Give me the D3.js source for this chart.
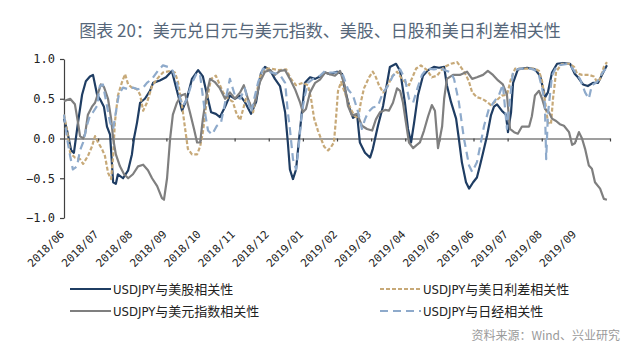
<!DOCTYPE html>
<html lang="zh">
<head>
    <meta charset="UTF-8">
    <title>美元兑日元相关性</title>
    <script src="https://cdn.jsdelivr.net/npm/d3@7"></script>
    <style>
        body { margin: 0; background: #fff; }
        svg { display: block; }
    </style>
</head>
<body>
<svg id="chart"></svg>

<script>
    // 横轴月份标签（第 i 个月）
    const months = ['2018/06', '2018/07', '2018/08', '2018/09', '2018/10', '2018/11', '2018/12', '2019/01',
        '2019/02', '2019/03', '2019/04', '2019/05', '2019/06', '2019/07', '2019/08', '2019/09'];
    const yTicks = [-1, -0.5, 0, 0.5, 1];

    // 每个点：[距 2018/06 的月数, 相关系数]
    const stockCorr = [[0,0.25],[0.09,0.1],[0.21,-0.15],[0.29,-0.18],[0.41,0.2],[0.53,0.55],[0.64,0.72],[0.76,0.78],[0.85,0.8],[0.97,0.55],[1.05,0.5],[1.17,0.4],[1.26,0.15],[1.35,0.05],[1.44,-0.55],[1.52,-0.57],[1.58,-0.45],[1.73,-0.5],[1.88,-0.4],[1.99,-0.2],[2.05,0],[2.14,0.2],[2.23,0.45],[2.37,0.5],[2.52,0.6],[2.61,0.7],[2.81,0.73],[2.99,0.77],[3.16,0.85],[3.31,0.6],[3.46,0.35],[3.60,0.5],[3.75,0.75],[3.93,0.86],[4.07,0.78],[4.19,0.55],[4.31,0.33],[4.45,0.31],[4.57,0.27],[4.72,0.4],[4.86,0.54],[5.01,0.5],[5.16,0.54],[5.30,0.46],[5.48,0.31],[5.63,0.46],[5.77,0.82],[5.89,0.9],[6.04,0.86],[6.18,0.75],[6.33,0.66],[6.48,0.33],[6.56,-0.05],[6.62,-0.39],[6.71,-0.51],[6.80,-0.39],[6.89,0],[6.97,0.33],[7.06,0.7],[7.21,0.77],[7.36,0.75],[7.50,0.78],[7.65,0.83],[7.79,0.81],[8.00,0.84],[8.15,0.81],[8.23,0.62],[8.38,0.37],[8.47,0.26],[8.59,0.3],[8.67,-0.05],[8.82,-0.18],[8.97,-0.24],[9.05,-0.13],[9.20,0.16],[9.35,0.41],[9.55,0.9],[9.73,0.94],[9.85,0.85],[9.99,0.45],[10.08,0.12],[10.17,-0.05],[10.26,0.2],[10.37,0.54],[10.52,0.79],[10.67,0.86],[10.84,0.9],[10.99,0.89],[11.14,0.9],[11.22,0.67],[11.34,0.46],[11.49,0.25],[11.57,0],[11.66,-0.3],[11.78,-0.55],[11.87,-0.63],[11.99,-0.55],[12.10,-0.49],[12.19,-0.34],[12.28,-0.18],[12.40,0.04],[12.51,0.29],[12.60,0.4],[12.69,0.43],[12.83,0.35],[12.95,0.3],[13.01,0.08],[13.10,0.33],[13.16,0.7],[13.30,0.87],[13.57,0.89],[13.80,0.87],[13.95,0.79],[14.10,0.52],[14.18,0.58],[14.30,0.83],[14.45,0.94],[14.62,0.95],[14.83,0.94],[14.97,0.81],[15.06,0.77],[15.21,0.68],[15.35,0.66],[15.50,0.7],[15.65,0.7],[15.80,0.83],[15.91,0.92]];

    const rateCorr = [[0,0.3],[0.09,0.1],[0.18,-0.18],[0.32,-0.24],[0.47,-0.26],[0.56,-0.32],[0.70,-0.22],[0.82,-0.1],[0.91,0.03],[1.00,-0.05],[1.11,-0.13],[1.20,-0.22],[1.29,-0.43],[1.38,-0.51],[1.44,-0.22],[1.49,0.2],[1.58,0.54],[1.70,0.71],[1.79,0.81],[1.88,0.68],[1.99,0.64],[2.14,0.62],[2.23,0.55],[2.32,0.35],[2.43,0.45],[2.58,0.66],[2.73,0.75],[2.90,0.83],[3.11,0.85],[3.25,0.83],[3.34,0.71],[3.46,0.41],[3.55,0.12],[3.63,-0.13],[3.75,-0.2],[3.90,-0.2],[3.99,-0.1],[4.07,0.08],[4.19,0.5],[4.31,0.75],[4.45,0.79],[4.57,0.67],[4.66,0.58],[4.81,0.5],[4.95,0.46],[5.04,0.33],[5.16,0.23],[5.25,0.37],[5.33,0.5],[5.45,0.44],[5.54,0.33],[5.63,0.54],[5.74,0.77],[5.89,0.88],[6.07,0.88],[6.27,0.86],[6.51,0.87],[6.65,0.75],[6.80,0.67],[7.00,0.7],[7.15,0.67],[7.24,0.5],[7.33,0.25],[7.44,0.1],[7.53,0],[7.62,-0.1],[7.74,-0.15],[7.82,-0.11],[7.91,-0.05],[7.97,0.25],[8.03,0.6],[8.12,0.71],[8.26,0.54],[8.35,0.42],[8.50,0.29],[8.62,0.25],[8.70,0.46],[8.79,0.63],[8.94,0.77],[9.05,0.84],[9.14,0.77],[9.23,0.67],[9.35,0.58],[9.44,0.62],[9.61,0.78],[9.76,0.84],[9.90,0.75],[10.11,0.67],[10.32,0.88],[10.46,0.92],[10.64,0.86],[10.78,0.77],[10.93,0.79],[11.14,0.9],[11.34,0.94],[11.52,0.96],[11.66,0.88],[11.78,0.8],[11.87,0.71],[11.96,0.58],[12.10,0.52],[12.25,0.5],[12.40,0.46],[12.51,0.42],[12.60,0.45],[12.83,0.54],[12.98,0.55],[13.10,0.75],[13.22,0.88],[13.51,0.88],[13.80,0.88],[13.92,0.85],[14.01,0.72],[14.10,0.46],[14.18,0.2],[14.27,0.18],[14.33,0.5],[14.42,0.84],[14.59,0.94],[14.80,0.94],[14.95,0.9],[15.03,0.82],[15.18,0.8],[15.38,0.8],[15.53,0.78],[15.62,0.71],[15.71,0.75],[15.82,0.9],[15.91,0.96]];

    const dollarCorr = [[0,0.47],[0.18,0.5],[0.32,0.43],[0.41,0.2],[0.47,0.03],[0.56,0],[0.62,0.06],[0.70,0.3],[0.82,0.4],[0.91,0.45],[1.08,0.68],[1.17,0.65],[1.29,0.5],[1.38,0.25],[1.44,0],[1.52,-0.2],[1.64,-0.35],[1.76,-0.45],[1.88,-0.5],[2.02,-0.45],[2.17,-0.35],[2.32,-0.33],[2.46,-0.4],[2.58,-0.5],[2.73,-0.6],[2.87,-0.75],[2.93,-0.77],[3.02,-0.5],[3.11,0],[3.19,0.3],[3.31,0.45],[3.43,0.54],[3.55,0.56],[3.69,0.33],[3.81,0.12],[3.90,-0.05],[3.99,-0.05],[4.07,0.25],[4.19,0.58],[4.28,0.75],[4.42,0.71],[4.57,0.63],[4.72,0.5],[4.86,0.58],[5.01,0.5],[5.16,0.58],[5.27,0.67],[5.39,0.5],[5.51,0.37],[5.63,0.5],[5.74,0.71],[5.89,0.84],[6.04,0.86],[6.18,0.8],[6.33,0.85],[6.48,0.86],[6.62,0.75],[6.77,0.62],[6.92,0.45],[7.00,0.33],[7.09,0.37],[7.21,0.58],[7.36,0.7],[7.50,0.74],[7.65,0.83],[7.79,0.81],[7.94,0.79],[8.09,0.85],[8.23,0.66],[8.32,0.41],[8.44,0.29],[8.59,0.31],[8.73,0.16],[8.88,0.12],[9.03,0.1],[9.14,0.24],[9.26,0.33],[9.41,0.36],[9.52,0.35],[9.64,0.45],[9.76,0.63],[9.85,0.6],[9.93,0.46],[10.02,0.2],[10.11,-0.05],[10.23,-0.12],[10.34,-0.08],[10.43,-0.05],[10.55,0.1],[10.67,0.28],[10.78,0.42],[10.87,0.35],[10.96,-0.12],[11.08,0.15],[11.14,0.5],[11.22,0.75],[11.40,0.8],[11.60,0.8],[11.81,0.84],[11.96,0.75],[12.10,0.77],[12.28,0.8],[12.42,0.85],[12.57,0.8],[12.72,0.73],[12.86,0.68],[12.98,0.55],[13.07,0.12],[13.19,0.08],[13.30,0.06],[13.42,0.15],[13.63,0.15],[13.71,0.28],[13.80,0.54],[13.92,0.6],[14.01,0.5],[14.10,0.37],[14.21,0.33],[14.30,0.25],[14.42,0.22],[14.53,0.18],[14.65,0.16],[14.80,0.08],[14.89,-0.08],[14.97,-0.06],[15.09,0.08],[15.18,0],[15.27,-0.13],[15.38,-0.34],[15.47,-0.38],[15.56,-0.55],[15.71,-0.63],[15.82,-0.76],[15.91,-0.77]];

    const nikkeiCorr = [[0,0.3],[0.09,0],[0.18,-0.22],[0.26,-0.39],[0.38,-0.35],[0.47,-0.15],[0.56,-0.05],[0.67,0.16],[0.76,0.29],[0.85,0.33],[0.97,0.41],[1.05,0.66],[1.14,0.68],[1.26,0.41],[1.35,0.2],[1.44,0.12],[1.55,0.41],[1.61,0.56],[1.73,0.64],[1.88,0.62],[2.02,0.64],[2.17,0.62],[2.32,0.64],[2.43,0.7],[2.58,0.75],[2.75,0.85],[2.90,0.92],[3.05,0.9],[3.19,0.85],[3.31,0.7],[3.40,0.5],[3.49,0.41],[3.60,0.5],[3.75,0.7],[3.90,0.83],[3.99,0.79],[4.13,0.33],[4.22,0.1],[4.34,0.05],[4.48,0.16],[4.60,0.2],[4.72,0.45],[4.86,0.75],[5.01,0.54],[5.16,0.5],[5.30,0.63],[5.48,0.33],[5.69,0.71],[5.83,0.88],[5.98,0.84],[6.18,0.82],[6.33,0.8],[6.48,0.7],[6.56,0.33],[6.62,0.12],[6.71,-0.26],[6.80,-0.39],[6.89,-0.05],[6.97,0.33],[7.06,0.54],[7.15,0.7],[7.30,0.75],[7.50,0.79],[7.65,0.85],[7.79,0.83],[8.00,0.83],[8.18,0.79],[8.32,0.62],[8.47,0.54],[8.62,0.33],[8.73,0.12],[8.82,0.24],[8.91,0.33],[9.05,0.39],[9.20,0.41],[9.35,0.58],[9.49,0.66],[9.64,0.79],[9.85,0.87],[9.99,0.75],[10.11,0.5],[10.23,0.45],[10.37,0.65],[10.49,0.8],[10.64,0.88],[10.84,0.87],[11.05,0.88],[11.22,0.85],[11.34,0.83],[11.43,0.75],[11.57,0.46],[11.72,0],[11.87,-0.34],[11.96,-0.42],[12.10,-0.3],[12.22,-0.04],[12.31,0.16],[12.45,0.37],[12.60,0.46],[12.75,0.55],[12.86,0.68],[12.98,0.12],[13.07,0.5],[13.16,0.85],[13.36,0.88],[13.66,0.88],[13.80,0.86],[13.92,0.79],[14.01,0.63],[14.09,0.45],[14.13,-0.26],[14.18,0.3],[14.30,0.79],[14.45,0.92],[14.80,0.94],[14.97,0.84],[15.12,0.75],[15.27,0.58],[15.38,0.5],[15.47,0.67],[15.62,0.71],[15.77,0.82],[15.91,0.9]];

    const seriesNames = ['USDJPY与美股相关性', 'USDJPY与美日利差相关性', 'USDJPY与美元指数相关性', 'USDJPY与日经相关性'];

    const W = 640, H = 353;
    const margin = {top: 59, right: 30, bottom: 135, left: 64};
    const svg = d3.select('#chart').attr('width', W).attr('height', H);

    const x = d3.scaleLinear().domain([0, months.length]).range([margin.left, W - margin.right]);
    const y = d3.scaleLinear().domain([-1, 1]).range([H - margin.bottom, margin.top]);

    // 标题
    svg.append('text')
        .attr('x', W / 2).attr('y', 37)
        .attr('text-anchor', 'middle')
        .attr('font-family', '"Noto Sans CJK SC", sans-serif')
        .attr('font-size', 17)
        .attr('fill', '#56677a')
        .text('图表 20：美元兑日元与美元指数、美股、日股和美日利差相关性');

    // y 轴
    const yAxis = svg.append('g')
        .attr('transform', 'translate(' + margin.left + ',0)')
        .call(d3.axisLeft(y).tickValues(yTicks).tickSize(4).tickSizeOuter(0).tickFormat(d3.format('.1f')));
    yAxis.selectAll('path, line').attr('stroke', '#404040').attr('stroke-width', 1.2);
    yAxis.selectAll('text')
        .attr('font-family', '"DejaVu Sans Mono", monospace')
        .attr('font-size', 12)
        .attr('fill', '#222')
        .attr('x', -9);

    // 零线 + 月份刻度
    const xAxis = svg.append('g')
        .attr('transform', 'translate(0,' + y(0) + ')')
        .call(d3.axisBottom(x).tickValues(d3.range(1, months.length + 1)).tickSize(3).tickSizeOuter(0).tickFormat(''));
    xAxis.selectAll('path, line').attr('stroke', '#404040').attr('stroke-width', 1.2);

    // 月份标签（斜放）
    svg.append('g').selectAll('text')
        .data(months)
        .enter().append('text')
        .attr('transform', function (d, i) {
            return 'translate(' + (x(i) + 1) + ',' + (y(-1) + 17) + ') rotate(-45)';
        })
        .attr('text-anchor', 'end')
        .attr('font-family', '"DejaVu Sans Mono", monospace')
        .attr('font-size', 11)
        .attr('fill', '#222')
        .text(function (d) { return d; });

    const line = d3.line()
        .x(function (d) { return x(d[0]); })
        .y(function (d) { return y(d[1]); });

    const series = [
        {data: stockCorr, color: '#1f3d63', dash: null},
        {data: rateCorr, color: '#c7a978', dash: '4,2'},
        {data: dollarCorr, color: '#7f7f7f', dash: null},
        {data: nikkeiCorr, color: '#8eaacb', dash: '8,5'}
    ];

    svg.append('g').selectAll('path')
        .data(series)
        .enter().append('path')
        .attr('d', function (d) { return line(d.data); })
        .attr('fill', 'none')
        .attr('stroke', function (d) { return d.color; })
        .attr('stroke-width', 2.2)
        .attr('stroke-linejoin', 'round')
        .attr('stroke-dasharray', function (d) { return d.dash; });

    // 图例
    const legend = svg.append('g').selectAll('g')
        .data(series)
        .enter().append('g')
        .attr('transform', function (d, i) {
            return 'translate(' + (i % 2 === 0 ? 70 : 380) + ',' + (289 + Math.floor(i / 2) * 22) + ')';
        });
    legend.append('line')
        .attr('x1', 0).attr('x2', 41)
        .attr('stroke', function (d) { return d.color; })
        .attr('stroke-width', 2.2)
        .attr('stroke-dasharray', function (d) { return d.dash; });
    legend.append('text')
        .attr('x', 43).attr('dy', '0.35em')
        .attr('font-family', '"DejaVu Sans Condensed", "Noto Sans CJK SC", sans-serif')
        .attr('font-size', 13)
        .attr('fill', '#222')
        .text(function (d, i) { return seriesNames[i]; });

    // 资料来源
    svg.append('text')
        .attr('x', 620).attr('y', 340)
        .attr('text-anchor', 'end')
        .attr('font-family', '"Noto Sans CJK SC", sans-serif')
        .attr('font-size', 12)
        .attr('fill', '#9a9a9a')
        .text('资料来源：Wind、兴业研究');
</script>
</body>
</html>
